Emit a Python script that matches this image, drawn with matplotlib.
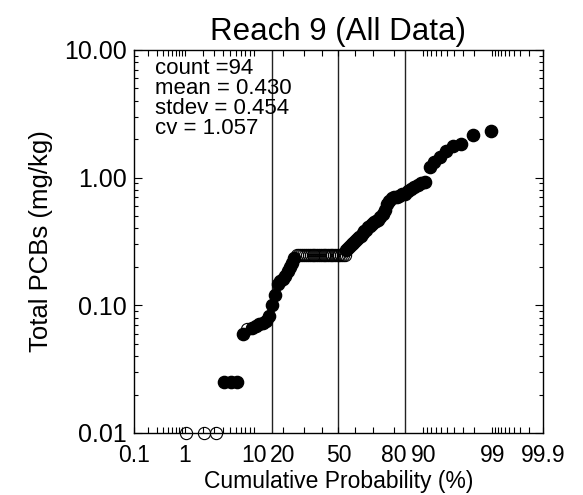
import numpy as np
import matplotlib
matplotlib.use("Agg")
import matplotlib.pyplot as plt
from matplotlib.ticker import FixedLocator, FixedFormatter, LogLocator, NullFormatter
from statistics import NormalDist

plt.rcParams['font.family'] = ['Liberation Sans', 'DejaVu Sans']

# ---- data (sorted concentrations, mg/kg) ----
conc = [0.01, 0.01, 0.01,
        0.025, 0.025, 0.025,
        0.06, 0.065,
        0.067, 0.069, 0.071, 0.073, 0.076, 0.082,
        0.10, 0.12, 0.148, 0.155, 0.16, 0.17, 0.185, 0.20, 0.215, 0.235] + \
       [0.25] * 27 + \
       [0.27, 0.28, 0.29, 0.30, 0.31, 0.32, 0.33, 0.34, 0.35, 0.37, 0.38, 0.39,
        0.41, 0.42, 0.43, 0.45, 0.46, 0.47,
        0.49, 0.52, 0.56, 0.62, 0.66, 0.69, 0.70, 0.71, 0.72, 0.74, 0.75, 0.78,
        0.81, 0.85, 0.88, 0.90, 0.92,
        1.22, 1.33, 1.46, 1.62, 1.78, 1.85, 2.17, 2.33]
detected = [False, False, False,
            True, True, True,
            True, False,
            True, True, True, True, True, True,
            True, True, True, True, True, True, True, True, True, True] + \
           [False] * 27 + [True] * 43

stats_text = "count =94\nmean = 0.430\nstdev = 0.454\ncv = 1.057"
x_major = [0.1, 1, 10, 20, 50, 80, 90, 99, 99.9]
x_major_labels = ["0.1", "1", "10", "20", "50", "80", "90", "99", "99.9"]
x_minor = [0.2, 0.3, 0.4, 0.5, 0.6, 0.7, 0.8, 0.9,
           2, 3, 4, 5, 6, 7, 8, 9, 30, 40, 60, 70,
           91, 92, 93, 94, 95, 96, 97, 98,
           99.1, 99.2, 99.3, 99.4, 99.5, 99.6, 99.7, 99.8]
y_major = [0.01, 0.1, 1, 10]
y_major_labels = ["0.01", "0.10", "1.00", "10.00"]
sigma_lines = [-1, 0, 1]

# ---- probability scale ----
nd = NormalDist()
_ppf = np.vectorize(lambda q: nd.inv_cdf(q), otypes=[float])
_cdf = np.vectorize(lambda z: nd.cdf(z), otypes=[float])

def fwd(p):
    p = np.asarray(p, dtype=float)
    return _ppf(np.clip(p / 100.0, 1e-9, 1 - 1e-9))

def inv(z):
    return _cdf(np.asarray(z, dtype=float)) * 100.0

n = len(conc)
conc = np.array(conc)
detected = np.array(detected)
prob = np.arange(1, n + 1) / (n + 1) * 100.0

fig = plt.figure(figsize=(5.83, 4.95), dpi=100)
ax = fig.add_axes([0.2298, 0.1253, 0.7016, 0.7737])
ax.set_xscale('function', functions=(fwd, inv))
ax.set_yscale('log')
ax.set_xlim(0.1, 99.9)
ax.set_ylim(0.01, 10)

for s in sigma_lines:
    ax.axvline(nd.cdf(s) * 100, color='#222222', lw=1.0, zorder=1)

ax.plot(prob[~detected], conc[~detected], 'o', ms=8.8, mfc='none', mec='black',
        mew=0.8, clip_on=False, zorder=2)
ax.plot(prob[detected], conc[detected], 'o', ms=8.8, mfc='black', mec='black',
        clip_on=False, zorder=2)

ax.xaxis.set_major_locator(FixedLocator(x_major))
ax.xaxis.set_major_formatter(FixedFormatter(x_major_labels))
ax.xaxis.set_minor_locator(FixedLocator(x_minor))
ax.xaxis.set_minor_formatter(NullFormatter())
ax.yaxis.set_major_locator(FixedLocator(y_major))
ax.yaxis.set_major_formatter(FixedFormatter(y_major_labels))
ax.yaxis.set_minor_locator(LogLocator(base=10, subs=np.arange(2, 10)))
ax.yaxis.set_minor_formatter(NullFormatter())

ax.tick_params(axis='x', which='both', direction='in', top=True, bottom=True,
               length=4.5, width=0.8, labelsize=16.5, pad=8)
ax.tick_params(axis='y', which='major', direction='in', left=True, right=True,
               length=6, width=0.8, labelsize=18, pad=5)
ax.tick_params(axis='y', which='minor', direction='in', left=True, right=True,
               length=3, width=0.8)
for sp in ax.spines.values():
    sp.set_linewidth(1.0)

ax.set_xlabel("Cumulative Probability (%)", fontsize=16.5, labelpad=2)
ax.set_ylabel("Total PCBs (mg/kg)", fontsize=18.5, labelpad=8)
ax.set_title("Reach 9 (All Data)", fontsize=22.5, pad=7)

ax.text(0.052, 0.978, stats_text, transform=ax.transAxes, fontsize=16,
        va='top', ha='left', linespacing=0.92)

fig.savefig("out.png", dpi=100)
